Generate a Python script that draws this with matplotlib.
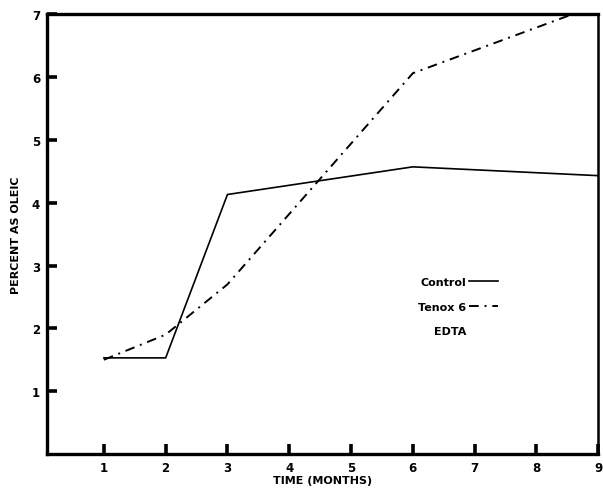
import numpy as np
import matplotlib
matplotlib.use("Agg")
import matplotlib.pyplot as plt
from matplotlib.lines import Line2D

# -----------------------------
# data
# -----------------------------
months_control = [1, 2, 3, 6, 9]
control = [1.53, 1.53, 4.13, 4.57, 4.43]

months_tenox = [1, 2, 3, 6, 9]
tenox = [1.50, 1.90, 2.70, 6.06, 7.15]

x_ticks = [1, 2, 3, 4, 5, 6, 7, 8, 9]
y_ticks = [1, 2, 3, 4, 5, 6, 7]

# -----------------------------
# figure
# -----------------------------
plt.rcParams['font.family'] = ['DejaVu Sans']
fig = plt.figure(figsize=(6.03, 4.89), dpi=100)
ax = fig.add_axes([0.078, 0.0695, 0.914, 0.8995])

ax.plot(months_control, control, color='black', lw=1.2, solid_joinstyle='miter')
ax.plot(months_tenox, tenox, color='black', lw=1.4, linestyle=(0, (5, 3, 1, 3)))

ax.set_xlim(0.08, 9.0)
ax.set_ylim(0, 7)
ax.set_xticks(x_ticks)
ax.set_yticks(y_ticks)
ax.set_xticklabels([str(t) for t in x_ticks], fontweight='bold', fontsize=8.5)
ax.set_yticklabels([str(t) for t in y_ticks], fontweight='bold', fontsize=8.5)
ax.tick_params(direction='in', length=7, width=2.6, color='black', pad=5)

for side in ['left', 'bottom', 'top']:
    ax.spines[side].set_linewidth(2.4)
ax.spines['right'].set_linewidth(1.8)

ax.set_xlabel("TIME (MONTHS)", fontsize=8, fontweight='bold', labelpad=1)
ax.set_ylabel("PERCENT AS OLEIC", fontsize=8, fontweight='bold', labelpad=8)

handles = [
    Line2D([], [], color='black', lw=1.2),
    Line2D([], [], color='black', lw=1.4, linestyle=(0, (5, 3, 1, 3))),
    Line2D([], [], color='none'),
]
ax.legend(handles, ["Control", "Tenox 6", "EDTA"], loc='upper left',
          bbox_to_anchor=(0.655, 0.425), frameon=False, markerfirst=False,
          handlelength=2.6, handletextpad=0.3, labelspacing=1.3,
          prop={'size': 8, 'weight': 'bold'})

fig.savefig("out.png", dpi=100)
